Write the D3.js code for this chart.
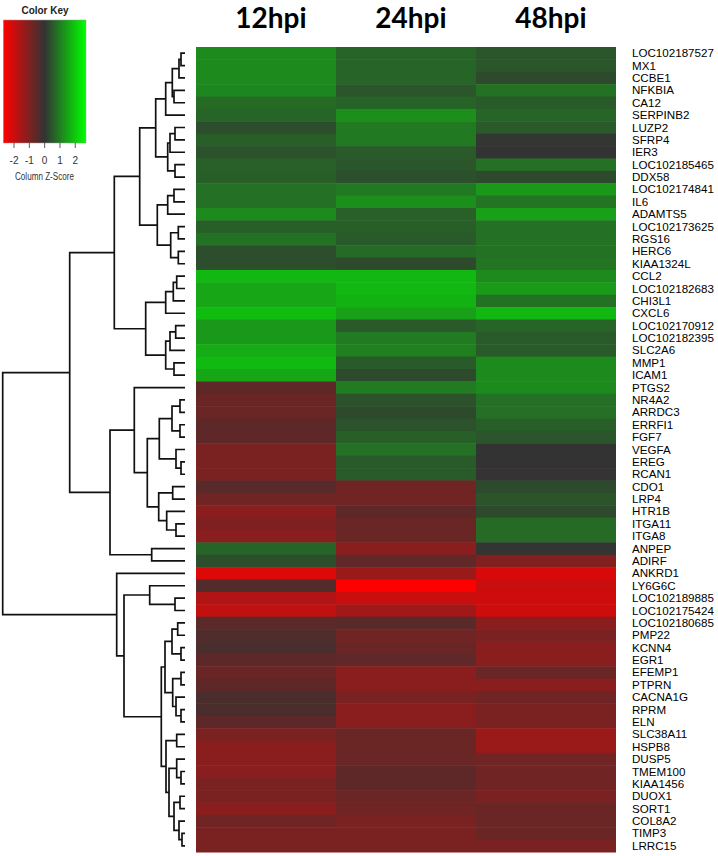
<html>
<script src='https://d3js.org/d3.v7.min.js'></script>
<style>
  body { margin: 0; background: white; }
  text { font-family: "Liberation Sans", Arial, sans-serif; }
</style>
<body>
<svg id="chart" width="718" height="856"></svg>
<script>
// column headers (time points)
var times = ["12hpi", "24hpi", "48hpi"];

// genes, top to bottom in heatmap order
var genes = ["LOC102187527","MX1","CCBE1","NFKBIA","CA12","SERPINB2","LUZP2","SFRP4","IER3",
  "LOC102185465","DDX58","LOC102174841","IL6","ADAMTS5","LOC102173625","RGS16","HERC6",
  "KIAA1324L","CCL2","LOC102182683","CHI3L1","CXCL6","LOC102170912","LOC102182395","SLC2A6",
  "MMP1","ICAM1","PTGS2","NR4A2","ARRDC3","ERRFI1","FGF7","VEGFA","EREG","RCAN1","CDO1",
  "LRP4","HTR1B","ITGA11","ITGA8","ANPEP","ADIRF","ANKRD1","LY6G6C","LOC102189885",
  "LOC102175424","LOC102180685","PMP22","KCNN4","EGR1","EFEMP1","PTPRN","CACNA1G","RPRM",
  "ELN","SLC38A11","HSPB8","DUSP5","TMEM100","KIAA1456","DUOX1","SORT1","COL8A2","TIMP3","LRRC15"];

// column z-scores
var z12 = [1.15,1.15,1.15,1.1,0.73,0.65,0.36,0.57,0.41,0.6,0.57,0.81,0.81,1.15,0.58,0.81,0.36,0.36,
  1.76,1.52,1.52,1.81,1.34,1.34,1.6,1.79,1.52,-0.57,-0.73,-0.73,-0.57,-0.57,-0.94,-0.94,-0.94,
  -0.5,-0.81,-1.15,-1.0,-1.15,0.65,0.36,-2.25,-0.44,-1.65,-1.87,-0.52,-0.38,-0.3,-0.57,-0.73,
  -0.57,-0.3,-0.3,-0.57,-0.94,-1.15,-1.15,-1.15,-0.94,-0.94,-1.15,-0.81,-0.94,-0.94];
var z24 = [0.65,0.65,0.65,0.45,0.63,1.2,0.94,0.94,0.52,0.45,0.37,0.94,1.2,0.6,0.57,0.52,0.73,0.3,
  1.76,1.76,1.68,1.44,0.5,0.97,1.02,0.52,0.3,0.97,0.41,0.3,0.41,0.57,0.81,0.52,0.52,
  -0.81,-0.81,-0.57,-0.73,-0.73,-1.15,-0.6,-1.36,-2.7,-2.0,-1.44,-0.52,-0.81,-0.73,-0.6,-1.15,
  -1.15,-0.94,-1.15,-1.15,-0.73,-0.73,-0.73,-0.57,-0.57,-0.73,-0.81,-0.94,-0.94,-0.94];
var z48 = [0.45,0.45,0.3,0.83,0.52,0.65,0.5,0.05,0.0,0.81,0.3,1.34,0.86,1.44,0.81,0.83,0.83,0.86,
  1.15,1.36,0.83,1.76,0.65,0.52,0.52,1.15,1.15,1.15,0.81,0.81,0.57,0.45,0.0,0.0,-0.02,
  0.3,0.44,0.3,0.73,0.73,0.03,-1.05,-2.2,-2.0,-2.05,-2.05,-1.15,-0.94,-1.15,-1.15,-0.73,
  -1.15,-0.81,-0.94,-0.94,-1.36,-1.36,-0.81,-0.81,-0.81,-0.94,-0.73,-0.73,-0.73,-0.94];

// row dendrogram: [merge height, left, right], leaves are gene names
var c1 = [19.3, [12.7, [6, [4, "LOC102187527","MX1"], "CCBE1"], [11, "NFKBIA","CA12"]], "SERPINB2"];
var c2 = [17.3, [15, [10, "LUZP2","SFRP4"], "IER3"], [10, "LOC102185465","DDX58"]];
var c3 = [17.3, [11, "LOC102174841","IL6"], "ADAMTS5"];
var c4 = [14.3, [6.7, "LOC102173625","RGS16"], [6.7, "HERC6","KIAA1324L"]];
var c5 = [19.3, [11.7, [8.3, "CCL2","LOC102182683"], "CHI3L1"], "CXCL6"];
var c6 = [19.3, [15, [9.3, "LOC102170912","LOC102182395"], "SLC2A6"], [11, "MMP1","ICAM1"]];
var r1 = [25.7, [13, [5, "NR4A2","ARRDC3"], [5, "ERRFI1","FGF7"]], [9, "VEGFA", [4, "EREG","RCAN1"]]];
var r2 = [26.3, [12.3, "CDO1","LRP4"], [18.3, "HTR1B", [9, "ITGA11","ITGA8"]]];
var b1 = [35.3, "LY6G6C", [10, "LOC102189885","LOC102175424"]];
var b2 = [20, [13, [7.3, "LOC102180685","PMP22"], [4, "KCNN4","EGR1"]],
  [12.3, [4, "EFEMP1","PTPRN"], [9, "CACNA1G", [4, "RPRM","ELN"]]]];
var b3 = [19, [8.3, "SLC38A11","HSPB8"], [16, [8.3, "DUSP5", [4, "TMEM100","KIAA1456"]],
  [11, [5, "DUOX1","SORT1"], [6, "COL8A2", [3, "TIMP3","LRRC15"]]]]];
var greenTop = [70.7, [45.3, [29.3, c1, c2], [27.7, c3, c4]], [39.3, c5, c6]];
var redMid = [75, [50.7, "PTGS2", [37.7, r1, r2]], [33.3, "ANPEP","ADIRF"]];
var redLow = [68.3, "ANKRD1", [61, b1, [23.7, b2, b3]]];
var tree = [182.3, [115.3, greenTop, redMid], redLow];

// colour key ticks
var keyTicks = [-2, -1, 0, 1, 2];

var svg = d3.select("#chart");
var zcols = [z12, z24, z48];

var color = d3.scaleLinear().domain([-2.7, 0, 2.7]).range(["#ff0000", "#333333", "#00ff00"]);
var x = d3.scaleBand().domain(times).range([196, 616]);
var y = d3.scaleBand().domain(genes).range([47, 852]);

// heatmap
var cells = [];
genes.forEach(function(g, i) {
  times.forEach(function(t, j) { cells.push({gene: g, time: t, z: zcols[j][i]}); });
});
svg.append("g").selectAll("rect")
  .data(cells)
  .enter().append("rect")
  .attr("x", function(d) { return x(d.time); })
  .attr("y", function(d) { return y(d.gene); })
  .attr("width", x.bandwidth())
  .attr("height", y.bandwidth() + 0.5)
  .attr("fill", function(d) { return color(d.z); });

// headers
svg.append("g").selectAll("text")
  .data(times)
  .enter().append("text")
  .attr("x", function(d) { return x(d) + x.bandwidth() / 2 + 5; })
  .attr("y", 28)
  .attr("text-anchor", "middle")
  .style("font-family", "Lato, 'Open Sans', sans-serif")
  .style("font-weight", "bold")
  .style("font-size", "28px")
  .attr("fill", "#000")
  .text(function(d) { return d; });

// row labels
svg.append("g").selectAll("text")
  .data(genes)
  .enter().append("text")
  .attr("x", 632)
  .attr("y", function(d) { return y(d) + y.bandwidth() / 2 + 4; })
  .style("font-size", "11.6px")
  .attr("fill", "#000")
  .text(function(d) { return d; });

// dendrogram
var h = d3.scaleLinear().domain([0, 182.3]).range([185, 2.7]);
var dendro = svg.append("g")
  .attr("fill", "none")
  .attr("stroke", "#111")
  .attr("stroke-width", 1.7);

function place(node) {
  if (typeof node == "string") {
    return {x: h(0), y: y(node) + y.bandwidth() / 2};
  }
  var a = place(node[1]), b = place(node[2]);
  var nx = h(node[0]);
  dendro.append("path")
    .attr("d", "M" + a.x + "," + a.y + "H" + nx + "V" + b.y + "H" + b.x);
  return {x: nx, y: (a.y + b.y) / 2};
}
place(tree);

// colour key
var kx = d3.scaleLinear().domain([-2.7, 2.7]).range([3.3, 86]);
var grad = svg.append("defs").append("linearGradient").attr("id", "keygrad");
grad.selectAll("stop")
  .data(d3.range(-2.7, 2.71, 0.27))
  .enter().append("stop")
  .attr("offset", function(d) { return ((d + 2.7) / 5.4 * 100) + "%"; })
  .attr("stop-color", function(d) { return color(d); });

svg.append("rect")
  .attr("x", kx(-2.7)).attr("y", 20)
  .attr("width", kx(2.7) - kx(-2.7)).attr("height", 123)
  .attr("fill", "url(#keygrad)")
  .attr("stroke", "#9a9a9a").attr("stroke-width", 0.5);

svg.append("text")
  .attr("x", 45).attr("y", 13.5)
  .attr("text-anchor", "middle")
  .attr("textLength", 47).attr("lengthAdjust", "spacingAndGlyphs")
  .style("font-weight", "bold").style("font-size", "11px")
  .attr("fill", "#222")
  .text("Color Key");

var keyAxis = svg.append("g").attr("transform", "translate(0,143)");
keyAxis.selectAll("line")
  .data(keyTicks)
  .enter().append("line")
  .attr("x1", function(d) { return kx(d); }).attr("x2", function(d) { return kx(d); })
  .attr("y1", 0).attr("y2", 5)
  .attr("stroke", "#333").attr("stroke-width", 0.8);
keyAxis.selectAll("text")
  .data(keyTicks)
  .enter().append("text")
  .attr("x", function(d) { return kx(d); })
  .attr("y", 21)
  .attr("text-anchor", "middle")
  .style("font-size", "10px")
  .attr("fill", "#333")
  .text(function(d) { return d; });

svg.append("text")
  .attr("x", 44.5).attr("y", 180)
  .attr("text-anchor", "middle")
  .attr("textLength", 59).attr("lengthAdjust", "spacingAndGlyphs")
  .style("font-size", "10px")
  .attr("fill", "#333")
  .text("Column Z-Score");
</script>
</body>
</html>
